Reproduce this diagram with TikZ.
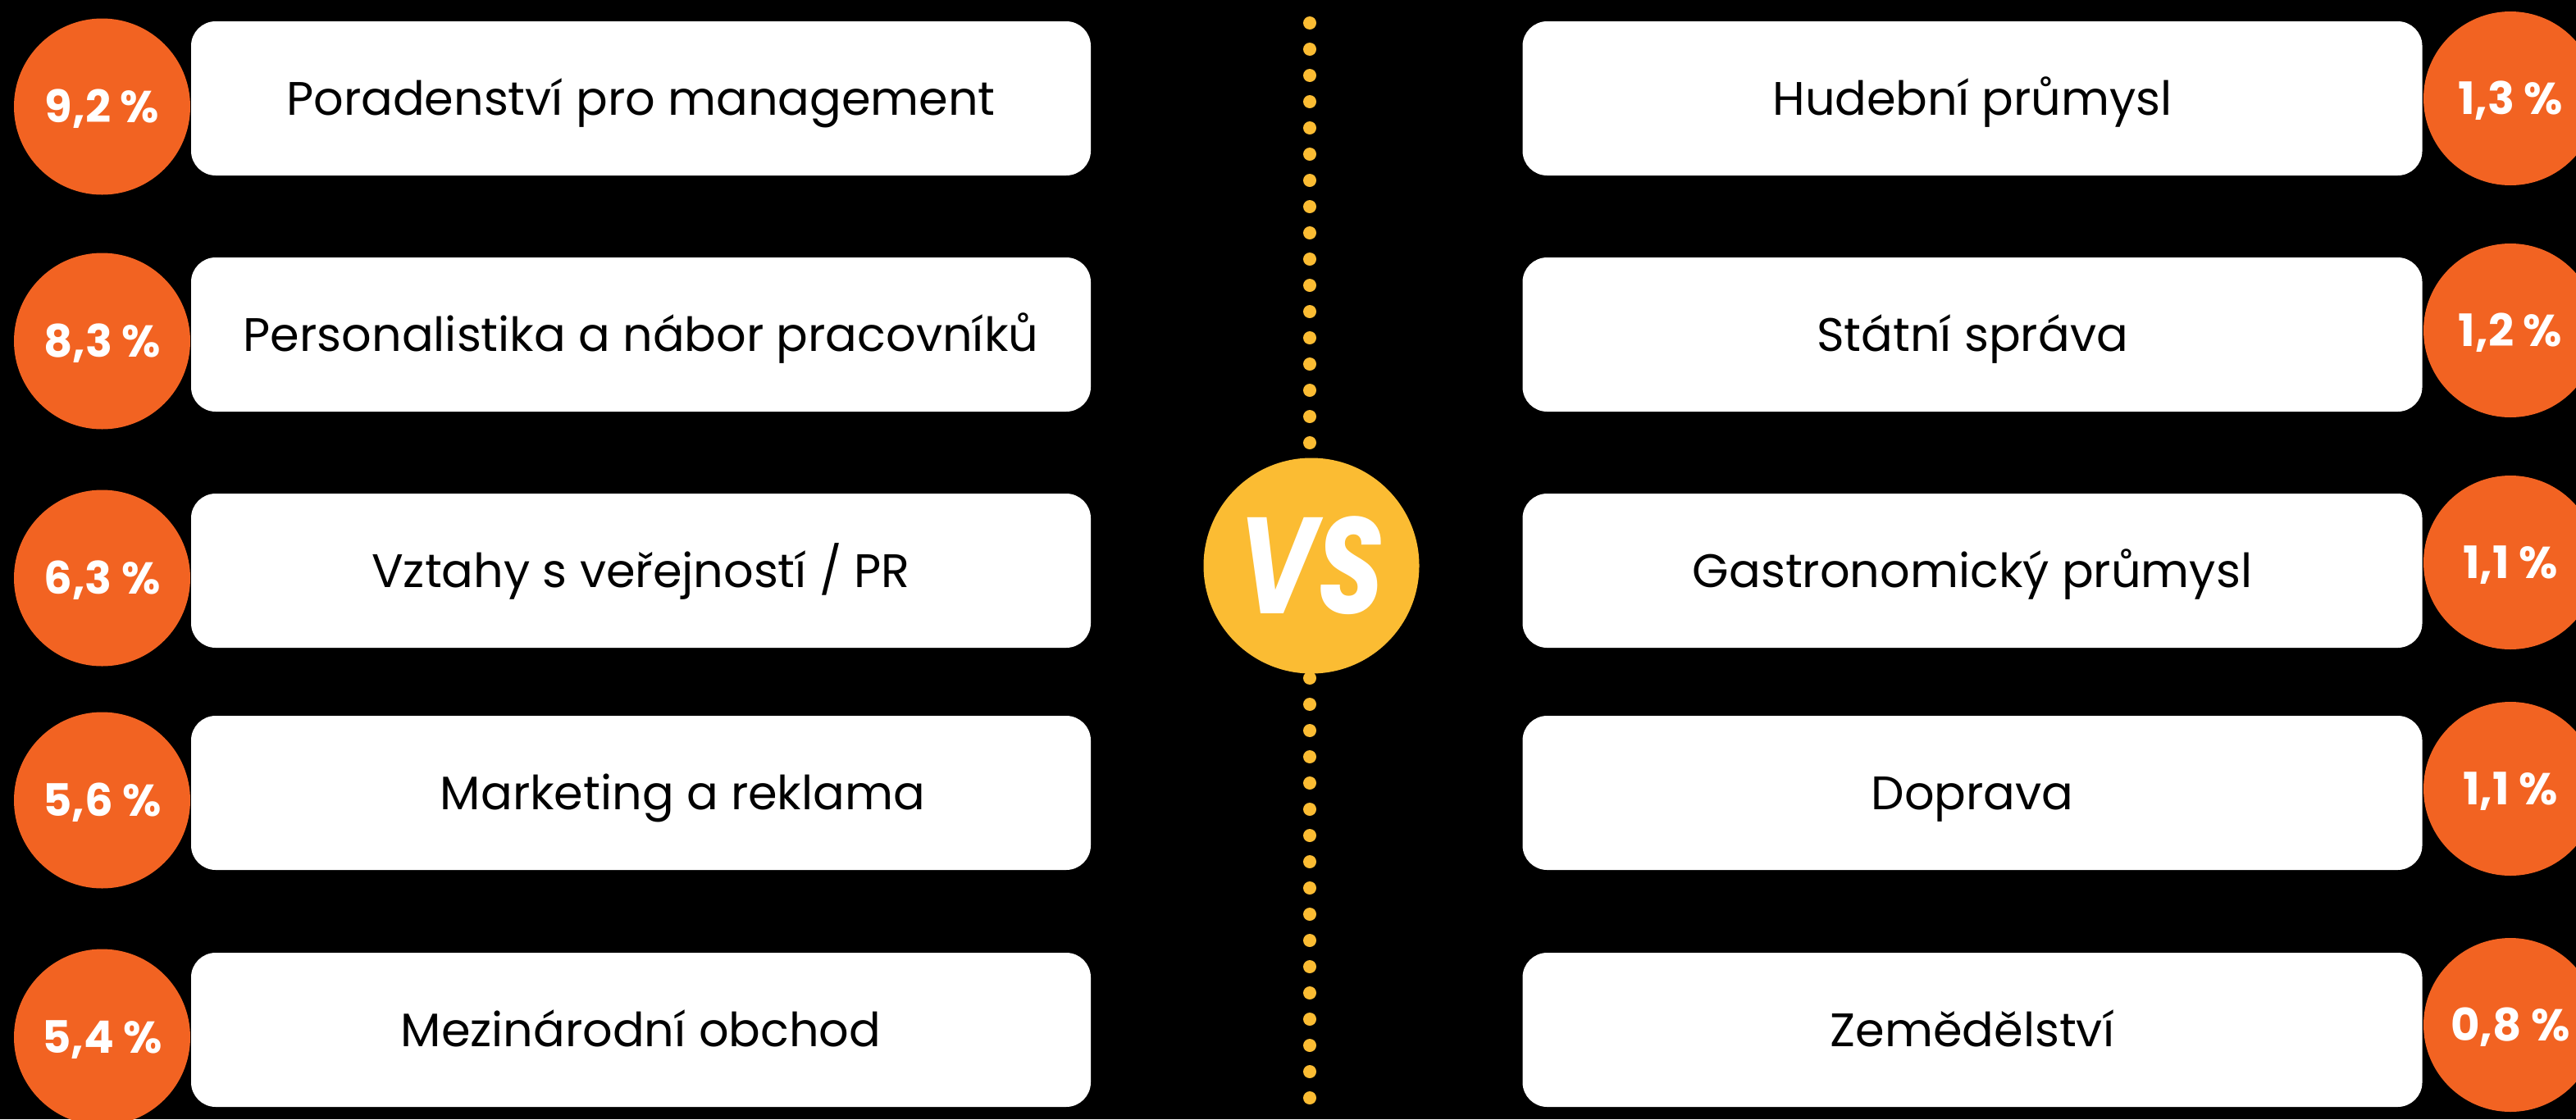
\documentclass[tikz,border=0pt]{standalone}
\usepackage{fontspec}
\setmainfont{Poppins}
\usepackage{graphicx}
\usepackage{tikz}
\usetikzlibrary{positioning}
\definecolor{accent}{HTML}{F26322}
\definecolor{vsgold}{HTML}{FBBC33}

\begin{document}
\begin{tikzpicture}[
  bar/.style={fill=white, rounded corners=0.3cm, minimum width=10.97cm, minimum height=1.88cm,
    inner sep=0pt, text=black, text height=0.40cm, text depth=0cm, font=\fontsize{16.3}{19}\selectfont},
  pctl/.style={circle, fill=accent, minimum size=2.15cm, inner sep=0pt, text=white,
    text height=0.38cm, text depth=0cm, font=\fontsize{15.5}{18}\selectfont\bfseries},
  pctr/.style={pctl, minimum size=2.12cm},
  dots/.style={vsgold, line width=0.16cm, line cap=round, dash pattern=on 0pt off 0.32cm}
]
% Background
\useasboundingbox (0,0) rectangle (31.41,-13.65);
\clip (0,0) rectangle (31.41,-13.65);
\fill[black] (0,0) rectangle (31.41,-13.65);

% Left column
\node[bar] (l1) at (7.815,-1.20) {Poradenství pro management};
\node[bar] (l2) at (7.815,-4.08) {Personalistika a nábor pracovníků};
\node[bar] (l3) at (7.815,-6.96) {Vztahy s veřejností / PR};
\node[bar] (l4) at (7.815,-9.67) {\hspace*{1.02cm}Marketing a reklama};
\node[bar] (l5) at (7.815,-12.56) {Mezinárodní obchod};

\node[pctl] (lp1) at (1.245,-1.30) {9,2 \%};
\node[pctl] (lp2) at (1.245,-4.16) {8,3 \%};
\node[pctl] (lp3) at (1.245,-7.05) {6,3 \%};
\node[pctl] (lp4) at (1.245,-9.76) {5,6 \%};
\node[pctl] (lp5) at (1.245,-12.65) {5,4 \%};

% Right column
\node[bar] (r1) at (24.05,-1.20) {Hudební průmysl};
\node[bar] (r2) at (24.05,-4.08) {Státní správa};
\node[bar] (r3) at (24.05,-6.96) {Gastronomický průmysl};
\node[bar] (r4) at (24.05,-9.67) {Doprava};
\node[bar] (r5) at (24.05,-12.56) {Zemědělství};

\node[pctr] (rp1) at (30.61,-1.20) {1,3 \%};
\node[pctr] (rp2) at (30.61,-4.03) {1,2 \%};
\node[pctr] (rp3) at (30.61,-6.86) {1,1 \%};
\node[pctr] (rp4) at (30.61,-9.62) {1,1 \%};
\node[pctr] (rp5) at (30.61,-12.50) {0,8 \%};

% Divider
\node[circle, fill=vsgold, minimum size=2.63cm, inner sep=0pt, text=white,
      font=\fontsize{47.5}{50}\selectfont\bfseries\itshape] (vs) at (15.99,-6.90) {\scalebox{0.78}[1]{VS}};

\coordinate (dtop) at (15.97,-0.28);
\coordinate (dbot) at (15.97,-13.39);
\draw[dots] (dtop) -- (dtop |- vs.north);
\draw[dots] (dbot) -- (dbot |- vs.south);
\end{tikzpicture}
\end{document}
